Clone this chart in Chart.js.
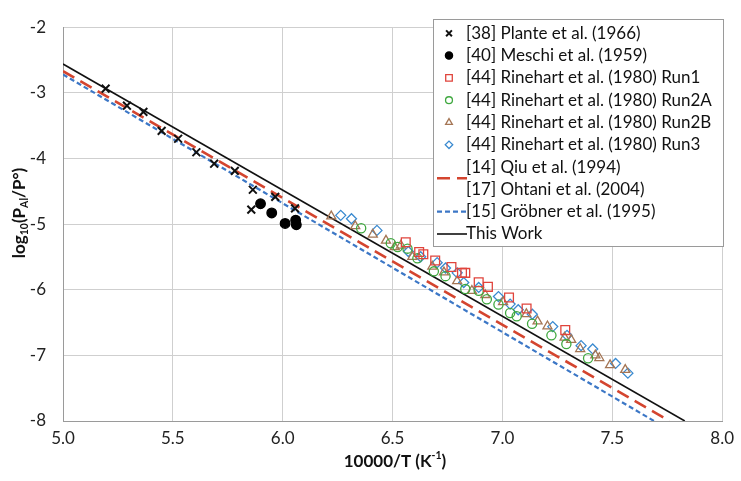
<!DOCTYPE html>
<html>
<head>
<meta charset="utf-8">
<script src="https://cdn.jsdelivr.net/npm/chart.js@4.4.1/dist/chart.umd.min.js"></script>
<style>
  html, body { margin: 0; padding: 0; background: #fff; }
  #wrap { width: 741px; height: 481px; }
</style>
</head>
<body>
<div id="wrap"><canvas id="chart" width="741" height="481"></canvas></div>
<script>
// axis ranges / ticks
const xTicks = [5.0, 5.5, 6.0, 6.5, 7.0, 7.5, 8.0];
const yTicks = [-2, -3, -4, -5, -6, -7, -8];

// [38] Plante et al. (1966)
const planteX = [5.194, 5.291, 5.366, 5.449, 5.524, 5.607, 5.688, 5.782, 5.864, 5.857, 5.966, 6.056];
const planteY = [-2.935, -3.196, -3.29, -3.58, -3.70, -3.905, -4.08, -4.19, -4.477, -4.78, -4.585, -4.76];

// [40] Meschi et al. (1959)
const meschiX = [5.899, 5.950, 6.011, 6.059, 6.062];
const meschiY = [-4.69, -4.83, -4.99, -4.94, -5.01];

// [44] Rinehart et al. (1980) Run1
const run1X = [6.560, 6.621, 6.640, 6.694, 6.768, 6.816, 6.831, 6.892, 6.934, 7.030, 7.110, 7.286];
const run1Y = [-5.276, -5.424, -5.458, -5.554, -5.655, -5.743, -5.743, -5.887, -5.956, -6.119, -6.285, -6.615];

// Run2A
const run2aX = [6.357, 6.492, 6.523, 6.568, 6.613, 6.688, 6.741, 6.831, 6.892, 6.929, 6.982, 7.035, 7.065, 7.135, 7.223, 7.291, 7.390];
const run2aY = [-5.063, -5.291, -5.350, -5.374, -5.522, -5.720, -5.793, -5.990, -6.015, -6.145, -6.226, -6.355, -6.404, -6.518, -6.695, -6.828, -7.044];

// Run2B
const run2bX = [6.221, 6.330, 6.410, 6.470, 6.510, 6.538, 6.590, 6.681, 6.734, 6.794, 6.861, 6.922, 7.003, 7.109, 7.160, 7.205, 7.283, 7.313, 7.354, 7.423, 7.441, 7.490, 7.559];
const run2bY = [-4.882, -5.029, -5.158, -5.251, -5.350, -5.325, -5.498, -5.646, -5.734, -5.867, -6.015, -6.079, -6.187, -6.370, -6.482, -6.556, -6.729, -6.763, -6.902, -7.000, -7.039, -7.147, -7.221];

// Run3
const run3X = [6.264, 6.313, 6.429, 6.572, 6.628, 6.703, 6.741, 6.794, 6.824, 6.892, 6.982, 7.035, 7.072, 7.136, 7.229, 7.294, 7.358, 7.411, 7.515, 7.571];
const run3Y = [-4.867, -4.919, -5.096, -5.418, -5.498, -5.587, -5.669, -5.743, -5.891, -5.965, -6.104, -6.219, -6.305, -6.374, -6.562, -6.695, -6.852, -6.902, -7.123, -7.271];

// assessed lines (end points)
const qiuX = [5.0, 7.76];
const qiuY = [-2.67, -8.0];
const grobnerX = [5.0, 7.69];
const grobnerY = [-2.72, -8.0];
const thisWorkX = [5.0, 7.83];
const thisWorkY = [-2.56, -8.0];

const zip = (xs, ys) => xs.map((x, i) => ({ x: x, y: ys[i] }));

const FONT = 'Lato, "Open Sans", "DejaVu Sans", sans-serif';

const markerSet = (label, xs, ys, style, color, radius, filled, bw) => ({
    label: label,
    data: zip(xs, ys),
    showLine: false,
    pointStyle: style,
    pointRadius: radius,
    pointBorderWidth: bw || 1.3,
    pointBorderColor: color,
    pointBackgroundColor: filled ? color : 'rgba(0,0,0,0)',
    borderColor: color,
    backgroundColor: filled ? color : 'rgba(0,0,0,0)'
});

const lineSet = (label, xs, ys, color, width, dash) => ({
    label: label,
    data: zip(xs, ys),
    showLine: true,
    pointRadius: 0,
    borderColor: color,
    borderWidth: width,
    borderDash: dash,
    fill: false
});

const datasets = [
    markerSet('[38] Plante et al. (1966)', planteX, planteY, 'crossRot', '#111111', 5.5, false, 2),
    markerSet('[40] Meschi et al. (1959)', meschiX, meschiY, 'circle', '#000000', 4.8, true),
    markerSet('[44] Rinehart et al. (1980) Run1', run1X, run1Y, 'rect', '#e0443c', 6.2, false),
    markerSet('[44] Rinehart et al. (1980) Run2A', run2aX, run2aY, 'circle', '#3fa83f', 4.6, false),
    markerSet('[44] Rinehart et al. (1980) Run2B', run2bX, run2bY, 'triangle', '#a57655', 5.2, false),
    markerSet('[44] Rinehart et al. (1980) Run3', run3X, run3Y, 'rectRot', '#3a8ad0', 5, false),
    lineSet('[14] Qiu et al. (1994) / [17] Ohtani et al. (2004)', qiuX, qiuY, '#d4452f', 2.6, [13, 7]),
    lineSet('[15] Gröbner et al. (1995)', grobnerX, grobnerY, '#3c77c6', 2.2, [5, 3]),
    lineSet('This Work', thisWorkX, thisWorkY, '#111111', 1.6, [])
];

// legend rows: which dataset, and its text lines
const legendRows = [
    { ds: 0, text: ['[38] Plante et al. (1966)'] },
    { ds: 1, text: ['[40] Meschi et al. (1959)'] },
    { ds: 2, text: ['[44] Rinehart et al. (1980) Run1'] },
    { ds: 3, text: ['[44] Rinehart et al. (1980) Run2A'] },
    { ds: 4, text: ['[44] Rinehart et al. (1980) Run2B'] },
    { ds: 5, text: ['[44] Rinehart et al. (1980) Run3'] },
    { ds: 6, text: ['[14] Qiu et al. (1994)', '[17] Ohtani et al. (2004)'] },
    { ds: 7, text: ['[15] Gröbner et al. (1995)'] },
    { ds: 8, text: ['This Work'] }
];

const boxLegend = {
    id: 'boxLegend',
    afterDraw(chart) {
        const ctx = chart.ctx;
        const left = 433, top = 19, right = 723, bottom = 246;
        const pitch = 22.3;
        ctx.save();
        ctx.fillStyle = '#ffffff';
        ctx.fillRect(left, top, right - left, bottom - top);
        ctx.strokeStyle = '#9a9a9a';
        ctx.lineWidth = 1;
        ctx.strokeRect(left + 0.5, top + 0.5, right - left, bottom - top);

        ctx.font = '17px ' + FONT;
        ctx.textBaseline = 'middle';
        ctx.textAlign = 'left';
        let line = 0;
        legendRows.forEach(row => {
            const ds = chart.data.datasets[row.ds];
            const y0 = 33.3 + line * pitch;
            const yMid = y0 + (row.text.length - 1) * pitch / 2;
            if (ds.showLine) {
                ctx.save();
                ctx.strokeStyle = ds.borderColor;
                ctx.lineWidth = ds.borderWidth;
                ctx.setLineDash(ds.borderDash || []);
                ctx.beginPath();
                ctx.moveTo(437, yMid);
                ctx.lineTo(467, yMid);
                ctx.stroke();
                ctx.restore();
            } else {
                ctx.save();
                ctx.strokeStyle = ds.pointBorderColor;
                ctx.fillStyle = ds.pointBackgroundColor;
                ctx.lineWidth = ds.pointBorderWidth;
                Chart.helpers.drawPoint(ctx, {
                    pointStyle: ds.pointStyle,
                    radius: ds.pointRadius * 0.75,
                    rotation: 0,
                    borderWidth: ds.pointBorderWidth
                }, 449, yMid);
                ctx.restore();
            }
            ctx.fillStyle = '#111';
            row.text.forEach((t, i) => ctx.fillText(t, 466, y0 + i * pitch));
            line += row.text.length;
        });
        ctx.restore();
    }
};

// axis titles with sub / superscripts
function drawRich(ctx, parts, size) {
    const widths = parts.map(p => {
        ctx.font = 'bold ' + (p.sub || p.sup ? size * 0.62 : size) + 'px ' + FONT;
        return ctx.measureText(p.t).width;
    });
    const total = widths.reduce((a, b) => a + b, 0);
    let x = -total / 2;
    parts.forEach((p, i) => {
        ctx.font = 'bold ' + (p.sub || p.sup ? size * 0.62 : size) + 'px ' + FONT;
        const dy = p.sub ? size * 0.25 : (p.sup ? -size * 0.38 : 0);
        ctx.fillText(p.t, x, dy);
        x += widths[i];
    });
}

const axisTitles = {
    id: 'axisTitles',
    afterDraw(chart) {
        const ctx = chart.ctx;
        ctx.save();
        ctx.fillStyle = '#111';
        ctx.textAlign = 'left';
        ctx.textBaseline = 'middle';
        ctx.translate(395, 462);
        drawRich(ctx, [{ t: '10000/T (K' }, { t: '-1', sup: true }, { t: ')' }], 17);
        ctx.restore();

        ctx.save();
        ctx.fillStyle = '#111';
        ctx.textAlign = 'left';
        ctx.textBaseline = 'middle';
        ctx.translate(20, 213);
        ctx.rotate(-Math.PI / 2);
        drawRich(ctx, [{ t: 'log' }, { t: '10', sub: true }, { t: '(P' }, { t: 'Al', sub: true }, { t: '/P°)' }], 17);
        ctx.restore();
    }
};

new Chart(document.getElementById('chart'), {
    type: 'scatter',
    data: { datasets: datasets },
    options: {
        responsive: false,
        animation: false,
        devicePixelRatio: 1,
        layout: { padding: { left: 0, top: 15, right: 14, bottom: 0 } },
        plugins: {
            legend: { display: false },
            tooltip: { enabled: false }
        },
        scales: {
            x: {
                type: 'linear',
                min: xTicks[0],
                max: xTicks[xTicks.length - 1],
                afterBuildTicks: s => { s.ticks = xTicks.map(v => ({ value: v })); },
                afterFit: s => { s.height = 60; },
                ticks: {
                    callback: v => Number(v).toFixed(1),
                    font: { family: FONT, size: 17 },
                    color: '#222',
                    padding: 7,
                    maxRotation: 0
                },
                grid: { color: '#cfcfcf', drawTicks: false, lineWidth: 1 },
                border: { color: '#9a9a9a', width: 1 }
            },
            y: {
                type: 'linear',
                min: yTicks[yTicks.length - 1],
                max: yTicks[0],
                afterBuildTicks: s => { s.ticks = yTicks.slice().reverse().map(v => ({ value: v })); },
                afterFit: s => { s.width = 63; },
                ticks: {
                    font: { family: FONT, size: 17 },
                    color: '#222',
                    padding: 17
                },
                grid: { color: '#cfcfcf', drawTicks: false, lineWidth: 1 },
                border: { color: '#9a9a9a', width: 1 }
            }
        }
    },
    plugins: [boxLegend, axisTitles]
});
</script>
</body>
</html>
